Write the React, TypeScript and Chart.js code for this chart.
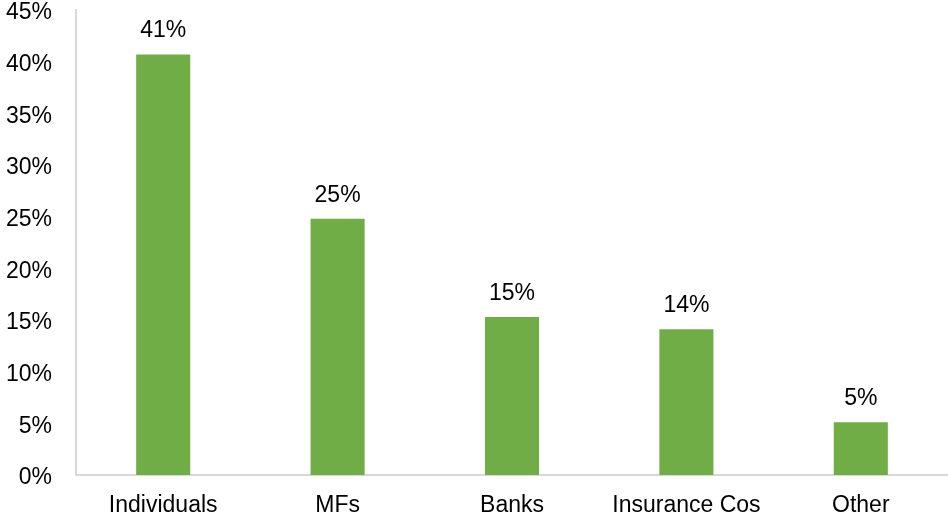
import React, { useEffect, useRef } from "react";
import { Chart, registerables } from "chart.js";

Chart.register(...registerables);

const categories = ["Individuals", "MFs", "Banks", "Insurance Cos", "Other"];
const shares = [40.7, 24.8, 15.3, 14.1, 5.1];
const shareLabels = ["41%", "25%", "15%", "14%", "5%"];
const yTickMax = 45;
const yTickStep = 5;

const FONT = "'Liberation Sans', Arial, sans-serif";
const FSIZE = 23;

const valueLabelPlugin = {
  id: "valueLabels",
  afterDatasetsDraw(chart: any) {
    const { ctx } = chart;
    const meta = chart.getDatasetMeta(0);
    ctx.save();
    ctx.font = `${FSIZE}px ${FONT}`;
    ctx.fillStyle = "#000000";
    ctx.textAlign = "center";
    ctx.textBaseline = "alphabetic";
    meta.data.forEach((bar: any, i: number) => {
      ctx.fillText(shareLabels[i], bar.x, bar.y - 17);
    });
    ctx.restore();
  },
};

export default function App() {
  const ref = useRef<HTMLCanvasElement | null>(null);
  useEffect(() => {
    document.body.style.margin = "0";
    const chart = new Chart(ref.current!, {
      type: "bar",
      data: {
        labels: categories,
        datasets: [
          {
            data: shares,
            backgroundColor: "#70ad47",
            barPercentage: 0.31,
            categoryPercentage: 1,
          },
        ],
      },
      options: {
        animation: false,
        responsive: false,
        maintainAspectRatio: false,
        layout: { padding: 0 },
        plugins: {
          legend: { display: false },
          tooltip: { enabled: false },
        },
        scales: {
          x: {
            grid: { display: false, drawTicks: false },
            border: { color: "#d9d9d9", width: 2 },
            ticks: {
              color: "#000000",
              font: { family: FONT, size: FSIZE },
              padding: 17,
            },
            afterFit(scale: any) {
              scale.height = 48;
              scale.paddingLeft = 0;
              scale.paddingRight = 0;
            },
          },
          y: {
            min: 0,
            max: yTickMax,
            grid: { display: false, drawTicks: false },
            border: { color: "#d9d9d9", width: 2 },
            ticks: {
              stepSize: yTickStep,
              color: "#000000",
              font: { family: FONT, size: FSIZE },
              padding: 24,
              labelOffset: 3,
              callback: (v: any) => `${v}%`,
            },
            afterFit(scale: any) {
              scale.width = 76;
              scale.paddingTop = 10;
              scale.paddingBottom = 0;
            },
          },
        },
      },
      plugins: [valueLabelPlugin],
    });
    return () => chart.destroy();
  }, []);
  return (
    <div style={{ position: "fixed", left: 0, top: 0, width: 948, height: 523, background: "#fff" }}>
      <canvas ref={ref} width={948} height={523} style={{ width: 948, height: 523 }} />
    </div>
  );
}
